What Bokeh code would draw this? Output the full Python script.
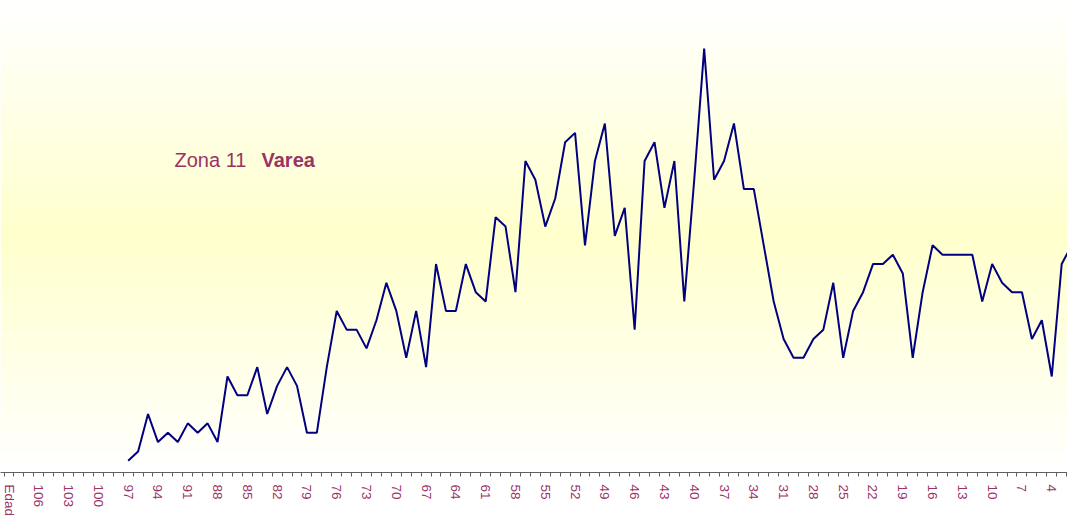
import numpy as np
from bokeh.plotting import figure
from bokeh.models import Range1d, FixedTicker, Label
from bokeh.embed import file_html
from bokeh.resources import INLINE

# ---- data ----
categories = ["Edad"] + [str(a) for a in range(108, 1, -1)]   # x categories (ages)
line_ages = [97, 96, 95, 94, 93, 92, 91, 90, 89, 88, 87, 86, 85, 84, 83, 82, 81, 80,
             79, 78, 77, 76, 75, 74, 73, 72, 71, 70, 69, 68, 67, 66, 65, 64, 63, 62,
             61, 60, 59, 58, 57, 56, 55, 54, 53, 52, 51, 50, 49, 48, 47, 46, 45, 44,
             43, 42, 41, 40, 39, 38, 37, 36, 35, 34, 33, 32, 31, 30, 29, 28, 27, 26,
             25, 24, 23, 22, 21, 20, 19, 18, 17, 16, 15, 14, 13, 12, 11, 10, 9, 8,
             7, 6, 5, 4, 3, 2]
counts = [1, 2, 6, 3, 4, 3, 5, 4, 5, 3, 10, 8, 8, 11, 6, 9, 11, 9,
          4, 4, 11, 17, 15, 15, 13, 16, 20, 17, 12, 17, 11, 22, 17, 17, 22, 19,
          18, 27, 26, 19, 33, 31, 26, 29, 35, 36, 24, 33, 37, 25, 28, 15, 33, 35,
          28, 33, 18, 31, 45, 31, 33, 37, 30, 30, 24, 18, 14, 12, 12, 14, 15, 20,
          12, 17, 19, 22, 22, 23, 21, 12, 19, 24, 23, 23, 23, 23, 18, 22, 20, 19,
          19, 14, 16, 10, 22, 24]
label_step = 3
title_zona = "Zona 11"
title_barrio = "Varea"

assert len(line_ages) == len(counts)

# ---- layout ----
W, H = 1067, 524
FRAME_H = 472
AXIS_H = H - FRAME_H
step_px = 9.931          # pixels per age category
first_px = 8.5           # pixel centre of first category
unit_px = 9.37           # pixels per person
zero_px = 469.7          # pixel row of value 0
x0, x1 = -first_px / step_px, (W - first_px) / step_px
y0, y1 = -(FRAME_H - zero_px) / unit_px, zero_px / unit_px

p = figure(width=W, height=H, output_backend="svg", toolbar_location=None,
           x_range=Range1d(x0, x1), y_range=Range1d(y0, y1),
           y_axis_location=None, min_border=0, min_border_bottom=AXIS_H)
p.outline_line_color = None
p.background_fill_color = "white"
p.border_fill_color = "white"
p.xgrid.visible = False
p.ygrid.visible = False

# vertical gradient background: white -> light yellow -> white
rows = np.arange(FRAME_H)
page_y = FRAME_H - (rows + 0.5)
t = np.clip(1 - np.abs(page_y - FRAME_H / 2) / (FRAME_H / 2), 0, 1)
img = np.zeros((FRAME_H, 1), dtype=np.uint32)
view = img.view(dtype=np.uint8).reshape((FRAME_H, 1, 4))
view[:, 0, 0] = 255
view[:, 0, 1] = 255
view[:, 0, 2] = np.round(255 - 51 * t).astype(np.uint8)
view[:, 0, 3] = 255
p.image_rgba(image=[img], x=x0, y=y0, dw=x1 - x0, dh=y1 - y0)

xs = [categories.index(str(a)) for a in line_ages]
p.line(x=xs, y=counts, line_color="#000080", line_width=2)

# axis
ax = p.xaxis[0]
major = list(range(0, len(categories), label_step))
ax.ticker = FixedTicker(ticks=major, minor_ticks=[i - 0.5 for i in range(len(categories) + 1)])
ax.major_label_overrides = {i: categories[i] for i in major}
ax.major_tick_line_color = None
ax.major_tick_in = 0
ax.major_tick_out = 0
ax.minor_tick_line_color = "#606060"
ax.minor_tick_in = 0
ax.minor_tick_out = 4
ax.axis_line_color = "#606060"
ax.major_label_orientation = -np.pi / 2
ax.major_label_standoff = 8
ax.major_label_text_font = "Liberation Sans"
ax.major_label_text_font_size = "13.5px"
ax.major_label_text_color = "#993366"

# title
ty = (zero_px - 159) / unit_px
p.add_layout(Label(x=(174 - first_px) / step_px, y=ty, text=title_zona,
                   text_font="Liberation Sans", text_font_size="20px",
                   text_color="#993366", text_baseline="middle"))
p.add_layout(Label(x=(261 - first_px) / step_px, y=ty, text=title_barrio,
                   text_font="Liberation Sans", text_font_size="20px",
                   text_font_style="bold", text_color="#993366", text_baseline="middle"))

open("out.html", "w").write(file_html(p, INLINE))
